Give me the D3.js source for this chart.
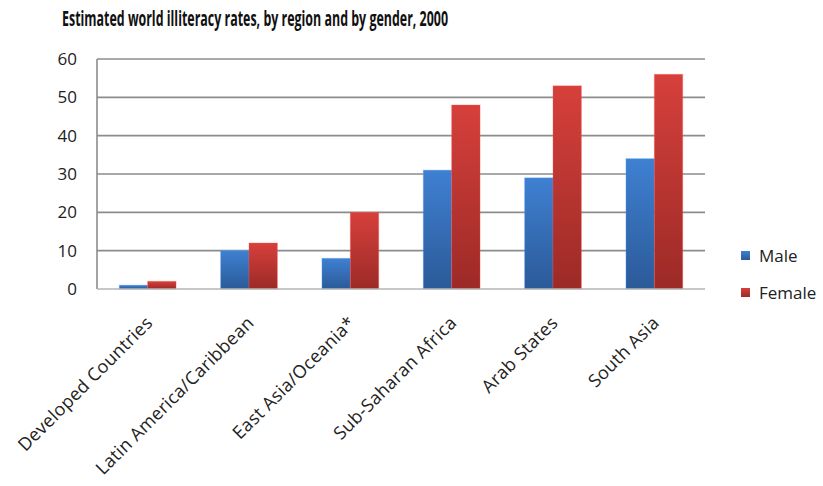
<!DOCTYPE html>
<html>
<head>
<meta charset="utf-8">
<script src="https://cdn.jsdelivr.net/npm/d3@7"></script>
<style>
  body { margin: 0; background: #fff; }
  text { font-family: "Open Sans", "DejaVu Sans", sans-serif; }
</style>
</head>
<body>
<div id="chart"></div>
<script>
// data
var regions = ['Developed Countries', 'Latin America/Caribbean', 'East Asia/Oceania*',
               'Sub-Saharan Africa', 'Arab States', 'South Asia'];
var male   = [1, 10, 8, 31, 29, 34];
var female = [2, 12, 20, 48, 53, 56];
var seriesNames = ['Male', 'Female'];
var yTicks = [0, 10, 20, 30, 40, 50, 60];

var W = 823, H = 486;
var margin = { top: 59, right: 118, bottom: 197, left: 97 };
var innerW = W - margin.left - margin.right,
    innerH = H - margin.top - margin.bottom;

var colors = {
  Male:   { top: '#3f80d2', bottom: '#2b5a98' },
  Female: { top: '#d6403b', bottom: '#9c2a27' }
};

var svg = d3.select('#chart').append('svg')
  .attr('width', W).attr('height', H);

var defs = svg.append('defs');
seriesNames.forEach(function (s) {
  var g = defs.append('linearGradient')
    .attr('id', 'grad' + s)
    .attr('x1', 0).attr('y1', 0).attr('x2', 0).attr('y2', 1);
  g.append('stop').attr('offset', '0%').attr('stop-color', colors[s].top);
  g.append('stop').attr('offset', '100%').attr('stop-color', colors[s].bottom);
});

// title (narrow font not available, so squeeze it to the width in the picture)
svg.append('text')
  .attr('x', 62).attr('y', 26)
  .attr('textLength', 386)
  .attr('lengthAdjust', 'spacingAndGlyphs')
  .style('font-weight', 'bold')
  .style('font-size', '21px')
  .attr('fill', '#111')
  .text('Estimated world illiteracy rates, by region and by gender, 2000');

var g = svg.append('g').attr('transform', 'translate(' + margin.left + ',' + margin.top + ')');

var x0 = d3.scaleBand().domain(regions).range([0, innerW]).paddingInner(0.44).paddingOuter(0.22);
var x1 = d3.scaleBand().domain(seriesNames).range([0, x0.bandwidth()]);
var y = d3.scaleLinear().domain([0, 60]).range([innerH, 0]);

// grid lines
g.selectAll('.grid').data(yTicks.filter(function (t) { return t > 0; }))
  .enter().append('line')
  .attr('x1', 0).attr('x2', innerW)
  .attr('y1', function (d) { return y(d); })
  .attr('y2', function (d) { return y(d); })
  .attr('stroke', '#8c8c8c').attr('stroke-width', 1.6);

// y axis labels
var yAxis = d3.axisLeft(y).tickValues(yTicks).tickSize(0).tickPadding(20);
var ya = g.append('g').call(yAxis);
ya.select('.domain').remove();
ya.selectAll('text')
  .style('font-size', '17px')
  .attr('fill', '#222');

// bars
var rows = regions.map(function (r, i) {
  return { region: r, values: [{ s: 'Male', v: male[i] }, { s: 'Female', v: female[i] }] };
});

var groups = g.selectAll('.group').data(rows).enter().append('g')
  .attr('class', 'group')
  .attr('transform', function (d) { return 'translate(' + x0(d.region) + ',0)'; });

groups.selectAll('rect').data(function (d) { return d.values; })
  .enter().append('rect')
  .attr('x', function (d) { return x1(d.s); })
  .attr('y', function (d) { return y(d.v); })
  .attr('width', x1.bandwidth())
  .attr('height', function (d) { return innerH - y(d.v); })
  .attr('fill', function (d) { return 'url(#grad' + d.s + ')'; })
  .attr('stroke', function (d) { return d3.color(colors[d.s].top).brighter(0.6); })
  .attr('stroke-opacity', 0.35)
  .attr('stroke-width', 1);

// axes lines
g.append('line').attr('x1', 0).attr('x2', 0).attr('y1', 0).attr('y2', innerH)
  .attr('stroke', '#8c8c8c').attr('stroke-width', 1.6);
g.append('line').attr('x1', 0).attr('x2', innerW).attr('y1', innerH).attr('y2', innerH)
  .attr('stroke', '#b5b5b5').attr('stroke-width', 1.6);

// x labels rotated
var xAxis = d3.axisBottom(x0).tickSize(0).tickPadding(0);
var xa = g.append('g').attr('transform', 'translate(0,' + innerH + ')').call(xAxis);
xa.select('.domain').remove();
xa.selectAll('text')
  .style('font-size', '18px')
  .style('letter-spacing', '0.3px')
  .attr('fill', '#222')
  .attr('text-anchor', 'end')
  .attr('dy', 0)
  .attr('transform', 'translate(6,35) rotate(-45)');

// legend
var legend = svg.append('g').attr('transform', 'translate(741,251)');
var li = legend.selectAll('g').data(seriesNames).enter().append('g')
  .attr('transform', function (d, i) { return 'translate(0,' + (i * 37) + ')'; });
li.append('rect').attr('width', 9).attr('height', 9)
  .attr('fill', function (d) { return 'url(#grad' + d + ')'; });
li.append('text').attr('x', 18).attr('y', 11)
  .style('font-size', '17px').attr('fill', '#222')
  .text(function (d) { return d; });
</script>
</body>
</html>
